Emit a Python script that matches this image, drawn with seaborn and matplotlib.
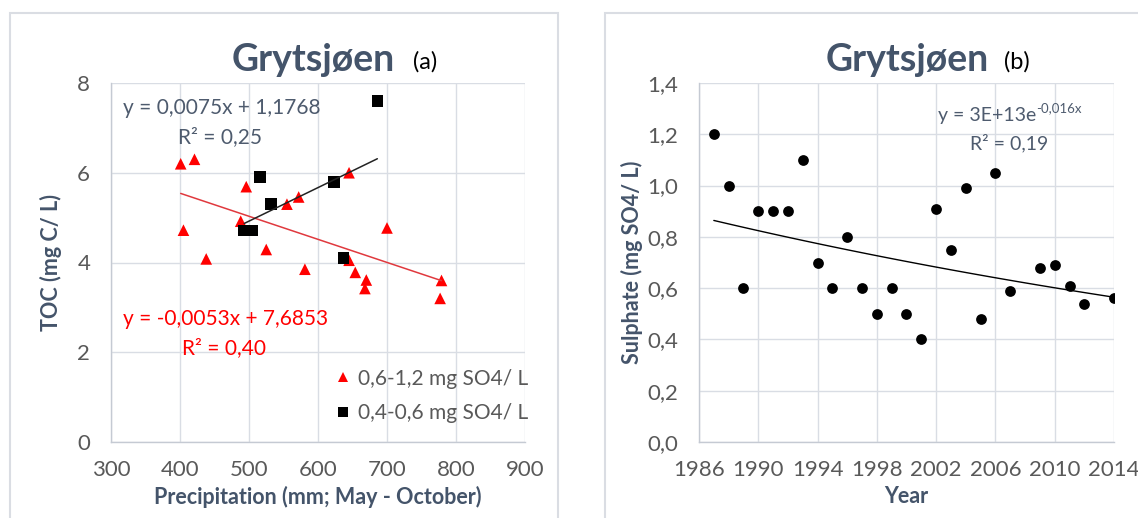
import numpy as np
import pandas as pd
import seaborn as sns
import matplotlib.pyplot as plt
from matplotlib.patches import Rectangle

# Panel (a): TOC vs precipitation, split by sulphate level
precip_hi = [401, 421, 405, 438, 496, 488, 525, 555, 572, 581, 645, 645, 654, 670, 668, 700, 779, 777]
toc_hi = [6.2, 6.3, 4.72, 4.08, 5.69, 4.92, 4.29, 5.3, 5.46, 3.85, 6.0, 4.05, 3.78, 3.61, 3.42, 4.77, 3.6, 3.2]
precip_lo = [516, 532, 623, 686, 637, 493, 505]
toc_lo = [5.9, 5.31, 5.8, 7.6, 4.1, 4.71, 4.71]
lab_hi = '0,6-1,2 mg SO4/ L'
lab_lo = '0,4-0,6 mg SO4/ L'

# Panel (b): sulphate per year
years = [1987, 1988, 1989, 1990, 1991, 1992, 1993, 1994, 1995, 1996, 1997, 1998, 1999, 2000,
         2001, 2002, 2003, 2004, 2005, 2006, 2007, 2009, 2010, 2011, 2012, 2014]
sulphate = [1.2, 1.0, 0.6, 0.9, 0.9, 0.9, 1.1, 0.7, 0.6, 0.8, 0.6, 0.5, 0.6, 0.5,
            0.4, 0.91, 0.75, 0.99, 0.48, 1.05, 0.59, 0.68, 0.69, 0.61, 0.54, 0.56]

title_col = '#44546A'
tick_col = '#595959'
eq_col = '#4E5B6E'
grid_col = '#D9DDE4'

sns.set_theme(style='white')
plt.rcParams['font.family'] = ['Lato', 'DejaVu Sans']

df_a = pd.DataFrame({
    'precip': precip_hi + precip_lo,
    'toc': toc_hi + toc_lo,
    'group': [lab_hi] * len(precip_hi) + [lab_lo] * len(precip_lo),
})
df_b = pd.DataFrame({'year': years, 'sulphate': sulphate})

fig = plt.figure(figsize=(11.38, 5.18), dpi=100)
W, H = 1138, 518
ax1 = fig.add_axes([111 / W, (H - 442) / H, 414 / W, 359 / H])
ax2 = fig.add_axes([699 / W, (H - 442) / H, 415 / W, 359 / H])

# chart-area borders
fig.add_artist(Rectangle((10 / W, -0.05), 548 / W, (H - 13) / H + 0.05, transform=fig.transFigure,
                         fill=False, edgecolor='#DADDE3', lw=1.5))
fig.add_artist(Rectangle((605 / W, -0.05), 0.6, (H - 13) / H + 0.05, transform=fig.transFigure,
                         fill=False, edgecolor='#DADDE3', lw=1.5))


def style_axes(ax):
    ax.grid(True, color=grid_col, lw=1)
    ax.set_axisbelow(True)
    for side in ['top', 'right']:
        ax.spines[side].set_visible(False)
    for side in ['left', 'bottom']:
        ax.spines[side].set_color('#C5CAD3')
        ax.spines[side].set_linewidth(1)
    ax.tick_params(axis='both', length=0, labelsize=16, labelcolor=tick_col)
    ax.tick_params(axis='x', pad=13)
    ax.tick_params(axis='y', pad=15)


# ---- panel (a)
sns.scatterplot(data=df_a, x='precip', y='toc', hue='group', style='group',
                palette={lab_hi: 'red', lab_lo: 'black'},
                markers={lab_hi: '^', lab_lo: 's'}, s=70, linewidth=0, ax=ax1)
sns.regplot(x=precip_hi, y=toc_hi, scatter=False, ci=None, truncate=True,
            line_kws={'color': '#E0393E', 'lw': 1.1}, ax=ax1)
sns.regplot(x=precip_lo, y=toc_lo, scatter=False, ci=None, truncate=True,
            line_kws={'color': '#222222', 'lw': 1.1}, ax=ax1)
ax1.set_xlim(300, 900)
ax1.set_ylim(0, 8)
ax1.set_xticks(range(300, 901, 100))
ax1.set_yticks(range(0, 9, 2))
style_axes(ax1)
ax1.set_xlabel('Precipitation (mm; May - October)', fontsize=15.5, fontweight='bold', color=title_col, labelpad=4)
ax1.set_ylabel('TOC (mg C/ L)', fontsize=15.5, fontweight='bold', color=title_col, labelpad=11)
leg = ax1.legend(loc='lower left', bbox_to_anchor=(0.465, 0.0), frameon=False, fontsize=15,
                 handletextpad=-0.3, labelspacing=0.7, markerscale=0.9)
for t in leg.get_texts():
    t.set_color(tick_col)

ax1.text(0.03, 0.93, 'y = 0,0075x + 1,1768', transform=ax1.transAxes, fontsize=15, color=eq_col, va='center')
ax1.text(0.162, 0.85, 'R² = 0,25', transform=ax1.transAxes, fontsize=15, color=eq_col, va='center')
ax1.text(0.03, 0.343, 'y = -0,0053x + 7,6853', transform=ax1.transAxes, fontsize=15, color='red', va='center')
ax1.text(0.172, 0.262, 'R² = 0,40', transform=ax1.transAxes, fontsize=15, color='red', va='center')

fig.text(313 / W, 1 - 60 / H, 'Grytsjøen', fontsize=27, fontweight='bold', color=title_col, ha='center', va='center')
fig.text(425 / W, 1 - 62 / H, '(a)', fontsize=17, color='black', ha='center', va='center')

# ---- panel (b)
sns.scatterplot(data=df_b, x='year', y='sulphate', color='black', s=60, linewidth=0, ax=ax2)
# exponential trend fitted on log values
coef = np.polyfit(years, np.log(sulphate), 1)
xs = np.linspace(min(years), max(years), 50)
sns.lineplot(x=xs, y=np.exp(np.polyval(coef, xs)), color='black', lw=1, ax=ax2)
ax2.set_xlim(1986, 2014)
ax2.set_ylim(0, 1.4)
ax2.set_xticks(range(1986, 2015, 4))
yt = np.arange(0, 1.41, 0.2)
ax2.set_yticks(yt)
ax2.set_yticklabels([f'{v:.1f}'.replace('.', ',') for v in yt])
style_axes(ax2)
ax2.set_xlabel('Year', fontsize=15.5, fontweight='bold', color=title_col, labelpad=4)
ax2.set_ylabel('Sulphate (mg SO4/ L)', fontsize=15.5, fontweight='bold', color=title_col, labelpad=3)

eq = ax2.text(0.576, 0.91, 'y = 3E+13e', transform=ax2.transAxes, fontsize=14, color=eq_col, va='center')
ax2.annotate('-0,016x', xy=(1, 1), xycoords=eq, fontsize=9.5, color=eq_col, va='top', ha='left',
             xytext=(0, 3), textcoords='offset points')
ax2.text(0.653, 0.833, 'R² = 0,19', transform=ax2.transAxes, fontsize=14, color=eq_col, va='center')

fig.text(907 / W, 1 - 60 / H, 'Grytsjøen', fontsize=27, fontweight='bold', color=title_col, ha='center', va='center')
fig.text(1017 / W, 1 - 62 / H, '(b)', fontsize=17, color='black', ha='center', va='center')

fig.savefig('out.png', dpi=100)
